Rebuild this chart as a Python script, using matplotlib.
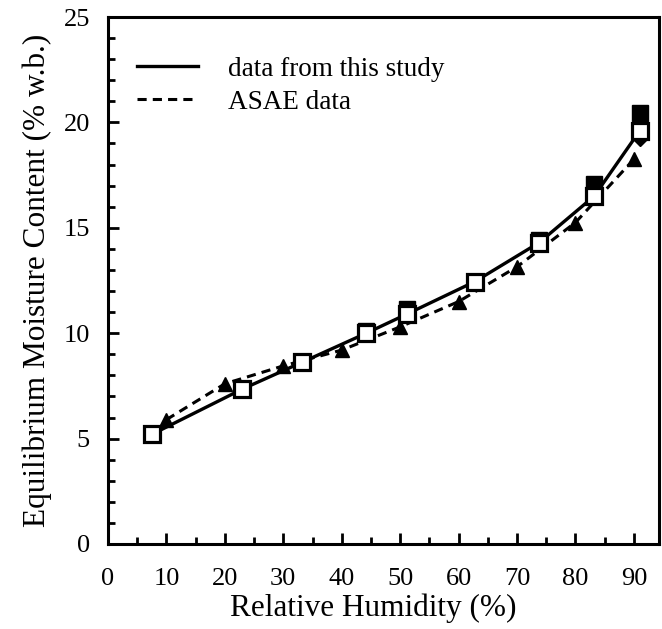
import matplotlib
matplotlib.use("Agg")
import matplotlib.pyplot as plt
from matplotlib.lines import Line2D
from matplotlib.ticker import MultipleLocator

plt.rcParams['font.family'] = ['Liberation Serif', 'DejaVu Serif']

# Data from this study (open squares, solid line)
rh_study = [7.5, 23.0, 33.2, 44.2, 51.1, 62.8, 73.8, 83.2, 91.0]
emc_study = [5.2, 7.35, 8.62, 10.0, 10.9, 12.45, 14.3, 16.5, 19.6]
# Additional replicates (filled squares)
rh_rep = [44.2, 51.1, 73.8, 83.2, 91.0]
emc_rep = [10.1, 11.15, 14.4, 17.1, 20.45]
# Diamond replicate
rh_dia = [91.0]
emc_dia = [19.25]
# ASAE data (filled triangles, dashed line)
rh_asae = [10, 20, 30, 40, 50, 60, 70, 80, 90]
emc_asae = [5.9, 7.6, 8.45, 9.2, 10.3, 11.5, 13.15, 15.25, 18.25]

xticks = [0, 10, 20, 30, 40, 50, 60, 70, 80, 90]
yticks = [0, 5, 10, 15, 20, 25]

fig = plt.figure(figsize=(6.62, 6.29), dpi=100)
ax = fig.add_axes([108/662, 1 - 544/629, (659-108)/662, (544-17)/629])

ax.plot(rh_asae, emc_asae, color='black', lw=2.2, ls=(0, (3, 2)), zorder=2)
ax.plot(rh_study, emc_study, color='black', lw=2.4, ls='-', zorder=3)
ax.plot(rh_asae, emc_asae, ls='none', marker='^', ms=10, color='black', zorder=4)
ax.plot(rh_dia, emc_dia, ls='none', marker='D', ms=8, color='black', zorder=4)
ax.plot(rh_rep, emc_rep, ls='none', marker='s', ms=11, color='black', zorder=5)
ax.plot(rh_study, emc_study, ls='none', marker='s', ms=11.5, mfc='white',
        mec='black', mew=2.3, zorder=6)

ax.set_xlim(0, 94.3)
ax.set_ylim(0, 25)
ax.set_xticks(xticks)
ax.set_yticks(yticks)
ax.xaxis.set_minor_locator(MultipleLocator(5))
ax.yaxis.set_minor_locator(MultipleLocator(1))
ax.tick_params(which='both', direction='in', width=2, labelsize=19)
ax.tick_params(which='major', length=8)
ax.tick_params(which='minor', length=5)
ax.tick_params(axis='y', pad=13)
ax.tick_params(axis='x', pad=17)
for s in ax.spines.values():
    s.set_linewidth(2.2)

ax.set_xlabel('Relative Humidity (%)', fontsize=22.5)
ax.xaxis.set_label_coords(0.482, -0.093)
ax.set_ylabel('Equilibrium Moisture Content (% w.b.)', fontsize=22.5, labelpad=8)

handles = [Line2D([], [], color='black', lw=2.4, ls='-'),
           Line2D([], [], color='black', lw=2.2, ls=(0, (3, 2)))]
ax.legend(handles, ['data from this study', 'ASAE data'], loc='upper left',
          frameon=False, fontsize=19.5, handlelength=2.25, handletextpad=1.1,
          labelspacing=0.3, borderpad=0, borderaxespad=0,
          bbox_to_anchor=(0.053, 0.925))

fig.savefig('out.png', dpi=100)
